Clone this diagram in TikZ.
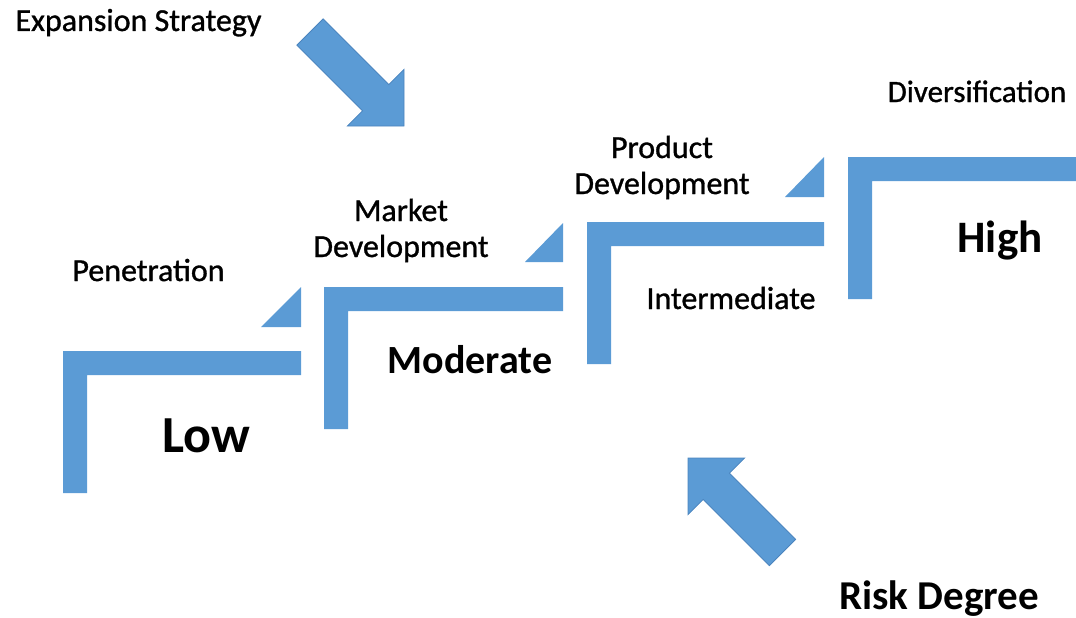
\documentclass[tikz,border=0pt]{standalone}
\usepackage{fontspec}
\setmainfont{Carlito}
\newfontfamily\stagefont[FakeBold=1]{Carlito}
\definecolor{stairblue}{HTML}{5B9BD5}
\definecolor{stairedge}{HTML}{4A84BE}
\tikzset{
  stair/.style={fill=stairblue, draw=none},
  blockarrow/.style={fill=stairblue, draw=stairedge, line width=0.8pt, line join=miter},
  stagetext/.style={anchor=base, inner sep=0pt, align=center, font=\stagefont\fontsize{32}{36}\selectfont},
  risktext/.style={anchor=base, inner sep=0pt, font=\bfseries\fontsize{41}{41}\selectfont}
}
\begin{document}
\begin{tikzpicture}[x=1pt, y=-1pt]
% Set the page size
\useasboundingbox (0, 0) rectangle (1076, 618);
\def\bar{24} % thickness of the stair bars

% Draw the four stairs, each with its little wedge
\fill[stair] (63, 351) -- (301, 351) -- (301, 351+\bar) -- (63+\bar, 351+\bar) -- (63+\bar, 493) -- (63, 493) -- cycle;
\fill[stair] (301, 287) -- (301, 327) -- (261, 327) -- cycle;
\fill[stair] (324, 287) -- (563, 287) -- (563, 287+\bar) -- (324+\bar, 287+\bar) -- (324+\bar, 429) -- (324, 429) -- cycle;
\fill[stair] (563, 223) -- (563, 262) -- (525, 262) -- cycle;
\fill[stair] (587, 222) -- (824, 222) -- (824, 222+\bar) -- (587+\bar, 222+\bar) -- (587+\bar, 364) -- (587, 364) -- cycle;
\fill[stair] (824, 157) -- (824, 197) -- (785, 197) -- cycle;
\fill[stair] (848, 157) -- (1076, 157) -- (1076, 157+\bar) -- (848+\bar, 157+\bar) -- (848+\bar, 299) -- (848, 299) -- cycle;

% Draw the two block arrows
\draw[blockarrow] (323.1, 18.9) -- (388.8, 84.6) -- (404, 69.4) -- (404, 126) -- (347.4, 126) -- (362.6, 110.8) -- (296.9, 45.1) -- cycle;
\draw[blockarrow] (795.6, 539.4) -- (729.4, 473.2) -- (744.6, 458) -- (688, 458) -- (688, 514.6) -- (703.2, 499.4) -- (769.4, 565.6) -- cycle;

% Insert the strategy names
\node[stagetext] (expansion) at (138.5, 31) {Expansion Strategy};
\node[stagetext] (penetration) at (148.5, 281) {Penetration};
\node[stagetext] (market) at (401, 257) {Market\\Development};
\node[stagetext] (product) at (662, 194) {Product\\Development};
\node[stagetext, font=\stagefont\fontsize{31}{31}\selectfont] (diversification) at (977, 102) {Diversification};
\node[stagetext] (intermediate) at (731, 309) {Intermediate};

% Insert the risk levels
\node[risktext, font=\bfseries\fontsize{52}{52}\selectfont] (low) at (206.5, 452) {Low};
\node[risktext, font=\bfseries\fontsize{40}{40}\selectfont] (moderate) at (470, 373) {Moderate};
\node[risktext, font=\bfseries\fontsize{45}{45}\selectfont] (high) at (1000, 252) {High};
\node[risktext] (risk) at (939, 609) {Risk Degree};
\end{tikzpicture}
\end{document}
